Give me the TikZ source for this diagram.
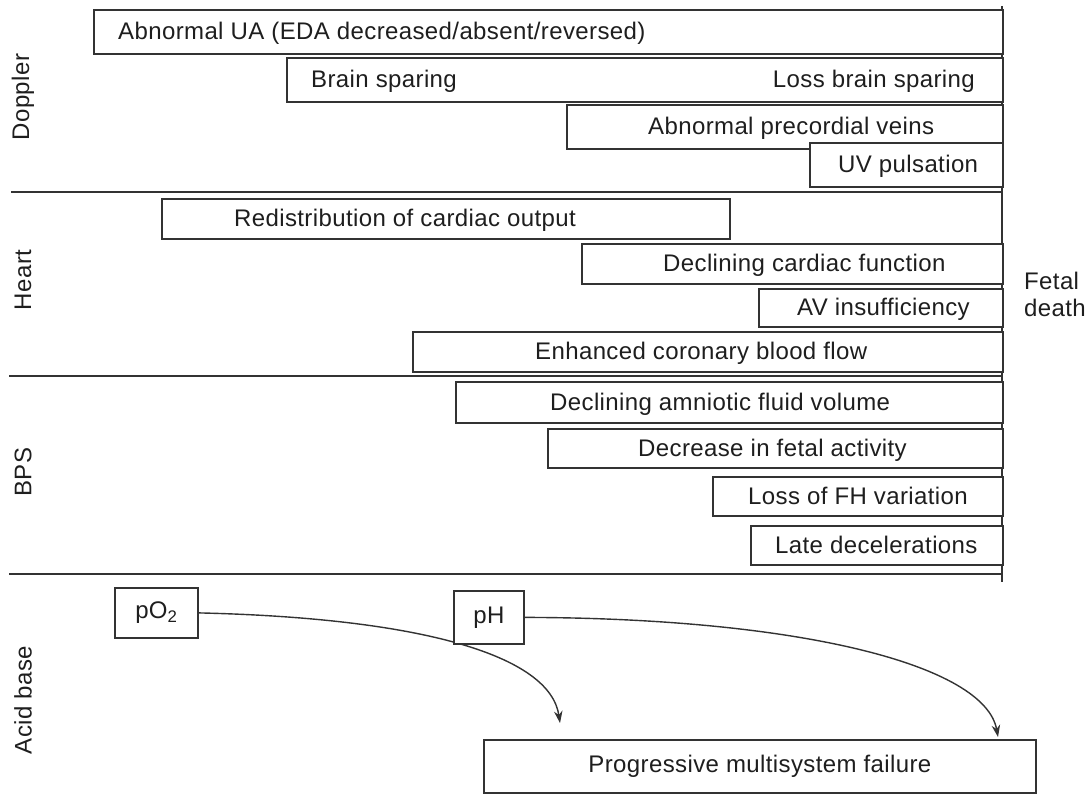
\documentclass[tikz,border=0pt]{standalone}
\usepackage{fontspec}
\setmainfont{Liberation Sans}[LetterSpace=1.6]
\usetikzlibrary{arrows.meta}
\definecolor{ink}{HTML}{333333}
\definecolor{txt}{HTML}{1E1E1E}
\begin{document}
\begin{tikzpicture}[x=1pt,y=-1pt,
  box/.style={draw=ink, line width=1.8pt, fill=white, rectangle, inner sep=0pt, anchor=north west},
  lbl/.style={font=\fontsize{24}{27}\selectfont, text=txt, inner sep=0pt, anchor=base west},
  lble/.style={font=\fontsize{24}{27}\selectfont, text=txt, inner sep=0pt, anchor=base east},
  side/.style={font=\fontsize{24}{27}\selectfont, text=txt, rotate=90, inner sep=0pt},
  rulel/.style={draw=ink, line width=1.8pt},
  flow/.style={draw=ink, line width=1.4pt, -{Stealth[length=12pt,width=8.5pt]}}]
\useasboundingbox (0,0) rectangle (1092,800);

% frame lines
\coordinate (vt) at (1002,6);
\coordinate (vb) at (1002,582);
\coordinate (s1l) at (11,192);  \coordinate (s1r) at (1002,192);
\coordinate (s2l) at (9,376);   \coordinate (s2r) at (1002,376);
\coordinate (s3l) at (9,574);   \coordinate (s3r) at (1002,574);
\draw[rulel] (vt) -- (vb);
\draw[rulel] (s1l) -- (s1r);
\draw[rulel] (s2l) -- (s2r);
\draw[rulel] (s3l) -- (s3r);

% side labels
\node[side] (lD) at (23,97) {Doppler};
\node[side] (lH) at (23,280) {Heart};
\node[side] (lB) at (23,472) {BPS};
\node[side] (lA) at (23,700) {Acid base};

% Doppler
\node[box, minimum width=909pt, minimum height=44pt] (d1) at (93,9) {};
\node[lbl] (d1t) at (118,39.5) {Abnormal UA (EDA decreased/absent/reversed)};
\node[box, minimum width=716pt, minimum height=44pt] (d2) at (286,57) {};
\node[lbl] (d2t) at (311,87.5) {Brain sparing};
\node[lble] (d2u) at (975,87.5) {Loss brain sparing};
\node[box, minimum width=436pt, minimum height=44pt] (d3) at (566,104) {};
\node[lbl] (d3t) at (648,134.5) {Abnormal precordial veins};
\node[box, minimum width=193pt, minimum height=44pt] (d4) at (809,142) {};
\node[lbl] (d4t) at (838,172.5) {UV pulsation};

% Heart
\node[box, minimum width=568pt, minimum height=40pt] (h1) at (161,198) {};
\node[lbl] (h1t) at (234,226.5) {Redistribution of cardiac output};
\node[box, minimum width=421pt, minimum height=40pt] (h2) at (581,243) {};
\node[lbl] (h2t) at (663,271.5) {Declining cardiac function};
\node[box, minimum width=244pt, minimum height=38pt] (h3) at (758,288) {};
\node[lbl] (h3t) at (797,315.5) {AV insufficiency};
\node[box, minimum width=590pt, minimum height=40pt] (h4) at (412,331) {};
\node[lbl] (h4t) at (535,359.5) {Enhanced coronary blood flow};

% BPS
\node[box, minimum width=547pt, minimum height=41pt] (p1) at (455,381) {};
\node[lbl] (p1t) at (550,410) {Declining amniotic fluid volume};
\node[box, minimum width=455pt, minimum height=39pt] (p2) at (547,428) {};
\node[lbl] (p2t) at (638,456) {Decrease in fetal activity};
\node[box, minimum width=290pt, minimum height=39pt] (p3) at (712,476) {};
\node[lbl] (p3t) at (748,504) {Loss of FH variation};
\node[box, minimum width=252pt, minimum height=39pt] (p4) at (750,525) {};
\node[lbl] (p4t) at (775,553) {Late decelerations};

% Fetal death
\node[font=\fontsize{24}{27}\selectfont, text=txt, inner sep=0pt, anchor=west, align=left] (fd) at (1024,294) {Fetal\\death};

% Acid base
\node[box, minimum width=83pt, minimum height=50pt, font=\fontsize{24}{27}\selectfont, text=txt] (po) at (114,587) {pO\textsubscript{2}};
\node[box, minimum width=552pt, minimum height=53pt, font=\fontsize{24}{27}\selectfont, text=txt] (pf) at (483,739) {Progressive multisystem failure};
\coordinate (t1) at (560,723);
\coordinate (t2) at (998,737);
\draw[flow] (po.east) .. controls (420,618) and (550,655) .. (t1);
\node[box, minimum width=70pt, minimum height=53pt, font=\fontsize{24}{27}\selectfont, text=txt] (ph) at (453,590) {pH};
\draw[flow] (ph.east) .. controls (800,618) and (985,665) .. (t2);
\end{tikzpicture}
\end{document}
